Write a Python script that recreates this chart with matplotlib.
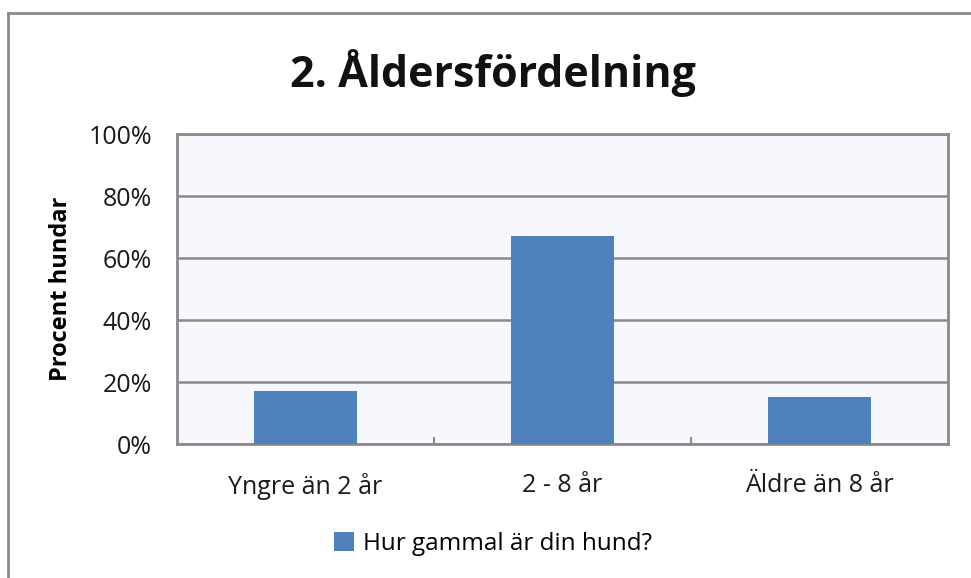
import matplotlib
matplotlib.use("Agg")
import matplotlib.pyplot as plt
from matplotlib.patches import Patch
from matplotlib.lines import Line2D

categories = ["Yngre än 2 år", "2 - 8 år", "Äldre än 8 år"]
values = [17.1, 67.1, 15.2]
yticks = [0, 20, 40, 60, 80, 100]
yticklabels = ["0%", "20%", "40%", "60%", "80%", "100%"]
series_name = "Hur gammal är din hund?"
title = "2. Åldersfördelning"
ylabel = "Procent hundar"

plt.rcParams['font.family'] = ['Open Sans', 'DejaVu Sans']

fig = plt.figure(figsize=(9.71, 5.78), dpi=100)
fig.patch.set_facecolor("white")

# outer chart border (top and left visible)
fig.add_artist(Line2D([8/971, 8/971], [0, 1-13/578], transform=fig.transFigure, color="#8a8a8a", lw=2))
fig.add_artist(Line2D([8/971, 1], [1-13/578, 1-13/578], transform=fig.transFigure, color="#8a8a8a", lw=2))

ax = fig.add_axes([177/971, 1-444/578, (948-177)/971, (444-134)/578])
ax.set_facecolor("#F7F8FD")
x = list(range(len(categories)))
ax.bar(x, values, width=0.40, color="#4F81BD", zorder=3)
ax.set_xlim(-0.5, len(categories)-0.5)
ax.set_ylim(0, 100)
ax.set_yticks(yticks)
ax.set_yticklabels(yticklabels, fontsize=18, color="#1a1a1a")
ax.set_xticks(x)
ax.set_xticklabels(categories, fontsize=18, color="#1a1a1a")
ax.tick_params(axis="x", length=0, pad=21)
ax.tick_params(axis="y", length=0, pad=18)
ax.set_xticks([0.5, 1.5], minor=True)
ax.tick_params(axis="x", which="minor", direction="in", length=5, width=1.5, color="#8a8a8a")
ax.yaxis.grid(True, color="#8a8a8a", lw=1.8, zorder=1)
ax.set_axisbelow(True)
for s in ax.spines.values():
    s.set_color("#8a8a8a")
    s.set_linewidth(2)
ax.set_ylabel(ylabel, fontsize=17, fontweight="bold", labelpad=11)

fig.text(0.508, 1-73/578, title, ha="center", va="center", fontsize=31, fontweight="bold", color="#111111")

handles = [Patch(facecolor="#4F81BD", edgecolor="none")]
fig.legend(handles, [series_name], loc="center", bbox_to_anchor=(0.508, 1-544/578), frameon=False,
           fontsize=17.5, handlelength=0.8, handleheight=0.8, handletextpad=0.4)

fig.savefig("out.png", dpi=100, facecolor="white")
